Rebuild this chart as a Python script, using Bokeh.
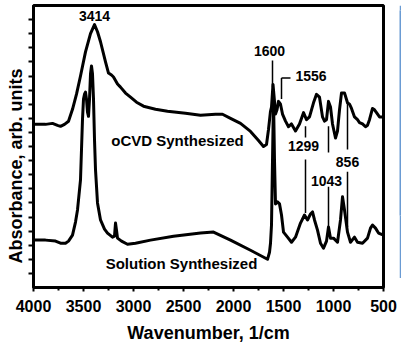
from bokeh.plotting import figure
from bokeh.models import Label, FixedTicker, Range1d, Title
from bokeh.layouts import row
from bokeh.embed import file_html
from bokeh.resources import INLINE

# ---- data (wavenumber in 1/cm, absorbance in arbitrary units) ----
ocvd_wn = [4000, 3880, 3810, 3760, 3730, 3690, 3650, 3610, 3570, 3530, 3480, 3430, 3390,
           3360, 3330, 3280, 3250, 3220, 3200, 3160, 3130, 3080, 3030, 2970, 2900, 2780,
           2660, 2480, 2330, 2180, 2110, 2030, 1930, 1830, 1750, 1700, 1670, 1650, 1630,
           1620, 1605, 1590, 1580, 1565, 1550, 1530, 1510, 1480, 1450, 1420, 1380, 1340,
           1300, 1270, 1240, 1200, 1170, 1140, 1110, 1090, 1070, 1050, 1030, 1010, 980,
           960, 940, 920, 890, 860, 840, 820, 790, 760, 740, 710, 680, 660, 640, 610, 590,
           570, 540, 500]
ocvd_abs = [11.57, 11.57, 11.64, 11.50, 11.43, 11.57, 11.79, 12.64, 13.71, 15.00, 16.71, 18.00, 18.64,
            18.14, 17.43, 16.00, 15.21, 15.07, 14.93, 14.43, 14.21, 13.79, 13.50, 13.14, 12.86, 12.64,
            12.50, 12.36, 12.21, 12.29, 12.29, 12.00, 11.64, 11.07, 10.43, 10.00, 10.14, 11.21, 12.50,
            12.80, 14.40, 13.20, 12.30, 12.60, 13.20, 13.00, 12.30, 11.80, 11.40, 11.60, 11.10, 11.60,
            12.40, 11.90, 12.10, 13.10, 13.70, 13.50, 12.10, 11.80, 11.90, 13.20, 12.80, 11.60, 10.60,
            11.10, 12.60, 13.80, 13.80, 13.10, 13.00, 12.70, 12.10, 11.90, 11.70, 11.60, 11.40, 11.50,
            11.90, 12.70, 12.60, 12.40, 12.10, 12.10]

sol_wn = [4000, 3880, 3780, 3730, 3680, 3650, 3610, 3580, 3560, 3540, 3530, 3520, 3510, 3500,
          3490, 3480, 3470, 3460, 3450, 3440, 3430, 3420, 3410, 3400, 3390, 3380, 3360, 3330,
          3290, 3260, 3210, 3190, 3180, 3170, 3160, 3120, 3060, 2980, 2830, 2600, 2330, 2200,
          2030, 1830, 1660, 1640, 1630, 1620, 1610, 1600, 1590, 1580, 1560, 1540, 1520, 1500,
          1460, 1420, 1380, 1330, 1290, 1260, 1230, 1210, 1190, 1160, 1130, 1100, 1070, 1050,
          1030, 1000, 960, 930, 910, 890, 860, 830, 790, 760, 710, 660, 630, 610, 580, 550, 500]
sol_abs = [3.36, 3.36, 3.29, 3.14, 3.14, 3.29, 3.71, 4.64, 5.50, 6.93, 7.64, 9.79, 11.93, 13.36,
           13.71, 13.86, 13.36, 12.43, 12.14, 13.36, 15.14, 15.71, 15.14, 13.36, 10.50, 8.36, 6.00, 4.79,
           4.14, 3.86, 3.57, 3.64, 4.57, 4.07, 3.50, 3.29, 3.07, 3.14, 3.36, 3.64, 3.86, 3.93,
           3.36, 2.64, 2.00, 2.50, 3.14, 4.43, 9.00, 13.50, 9.00, 5.93, 6.07, 5.93, 5.14, 3.93,
           3.57, 3.21, 3.57, 4.57, 5.14, 4.79, 5.21, 5.36, 4.79, 4.07, 3.14, 2.79, 3.29, 4.29,
           3.50, 3.50, 3.21, 4.79, 6.43, 5.50, 3.93, 3.21, 3.57, 3.21, 3.14, 3.50, 4.21, 4.43, 4.21, 3.86, 3.71]

x_ticks = [4000, 3500, 3000, 2500, 2000, 1500, 1000, 500]
x_minor = [3750, 3250, 2750, 2250, 1750, 1250, 750]
y_tick_marks = [1, 2, 3, 4, 5, 6, 7, 8, 9, 10, 11, 12, 13, 14, 15, 16, 17, 18, 19]

peak_labels = ["3414", "1600", "1556", "1299", "1043", "856"]
sample_labels = ["oCVD Synthesized", "Solution Synthesized"]
x_title = "Wavenumber, 1/cm"
y_title = "Absorbance, arb. units"

FONT = "Liberation Sans"

p = figure(width=399, height=350, output_backend="svg", toolbar_location=None,
           x_range=Range1d(4000, 500), y_range=Range1d(0, 20),
           min_border_left=33, min_border_right=16, min_border_top=5, min_border_bottom=63)
p.background_fill_color = "white"
p.border_fill_color = "white"
p.outline_line_color = "black"
p.outline_line_width = 3
p.outline_line_alpha = 1.0
p.grid.visible = False

xa = p.xaxis[0]
xa.ticker = FixedTicker(ticks=x_ticks, minor_ticks=x_minor)
xa.axis_line_width = 3
xa.major_tick_line_width = 2
xa.major_tick_out = 4
xa.major_tick_in = 0
xa.minor_tick_line_width = 2
xa.minor_tick_out = 3
xa.minor_tick_in = 0
xa.major_label_text_font = FONT
xa.major_label_text_font_style = "bold"
xa.major_label_text_font_size = "16px"
xa.major_label_text_color = "black"
xa.major_label_standoff = 8
xa.axis_label = x_title
xa.axis_label_text_font = FONT
xa.axis_label_text_font_style = "bold"
xa.axis_label_text_font_size = "18px"
xa.axis_label_text_color = "black"
xa.axis_label_standoff = 8

ya = p.yaxis[0]
ya.ticker = FixedTicker(ticks=[], minor_ticks=y_tick_marks)
ya.axis_line_width = 3
ya.minor_tick_line_width = 2
ya.minor_tick_out = 5
ya.minor_tick_in = 0
ya.major_label_standoff = 0

# y-axis title as a side title, starting a little above the frame bottom
p.add_layout(Title(text=y_title, align="left", offset=24, standoff=5,
                   text_font=FONT, text_font_style="bold", text_font_size="18px",
                   text_color="black"), "left")

p.line(ocvd_wn, ocvd_abs, line_color="black", line_width=3, line_join="round")
p.line(sol_wn, sol_abs, line_color="black", line_width=3, line_join="round")

# leader lines for peak labels
seg_x0 = [1610, 1520, 1520, 1280, 1280, 1050, 1050, 860, 860]
seg_y0 = [16.1, 14.86, 14.86, 11.43, 9.07, 11.43, 7.14, 13.14, 8.21]
seg_x1 = [1610, 1430, 1520, 1280, 1280, 1050, 1050, 860, 860]
seg_y1 = [14.2, 14.86, 13.36, 10.64, 5.29, 9.57, 4.21, 9.79, 4.29]
p.segment(seg_x0, seg_y0, seg_x1, seg_y1, line_color="black", line_width=1.5)

label_x = [3390, 1640, 1380, 1300, 1070, 860]
label_y = [19.29, 16.79, 15.0, 10.07, 7.57, 8.93]
label_align = ["center", "center", "left", "center", "center", "center"]
for t, lx, ly, al in zip(peak_labels, label_x, label_y, label_align):
    p.add_layout(Label(x=lx, y=ly, text=t, text_font=FONT, text_font_style="bold",
                       text_font_size="14px", text_align=al, text_baseline="middle",
                       text_color="black"))

sample_x = [2560, 2520]
sample_y = [10.43, 1.71]
for t, sx, sy in zip(sample_labels, sample_x, sample_y):
    p.add_layout(Label(x=sx, y=sy, text=t, text_font=FONT, text_font_style="bold",
                       text_font_size="15px", text_align="center", text_baseline="middle",
                       text_color="black"))

# thin blue edge line at right of the picture (an empty, tiny figure)
edge = figure(width=2, height=273, output_backend="svg", toolbar_location=None,
              min_border=0, x_axis_location=None, y_axis_location=None,
              x_range=Range1d(0, 1), y_range=Range1d(0, 1))
edge.grid.visible = False
edge.outline_line_color = None
edge.background_fill_color = "#6a9bd3"
edge.border_fill_color = "#6a9bd3"
edge.margin = (5, 0, 0, 0)

layout = row(p, edge, spacing=0)
open("out.html", "w").write(file_html(layout, INLINE))
